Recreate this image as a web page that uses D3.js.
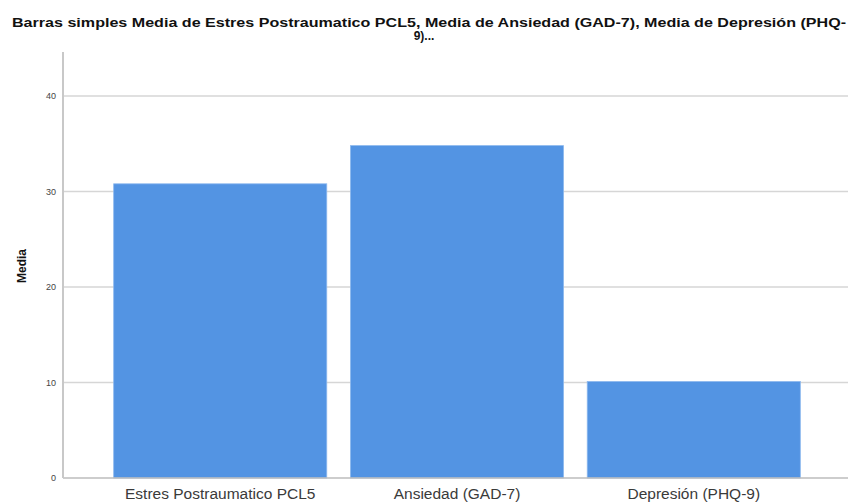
<!DOCTYPE html>
<html>
<head>
<meta charset="utf-8">
<script src="https://cdn.jsdelivr.net/npm/d3@7"></script>
<style>
  body { margin: 0; background: #fff; }
  svg { display: block; font-family: "Liberation Sans", Arial, sans-serif; }
</style>
</head>
<body>
<svg id="chart"></svg>
<script>
// chart data
const categories = ['Estres Postraumatico PCL5', 'Ansiedad (GAD-7)', 'Depresión (PHQ-9)']
const means = [30.8, 34.8, 10.1]
const yTicks = [0, 10, 20, 30, 40]
const titleLines = ['Barras simples Media de Estres Postraumatico PCL5, Media de Ansiedad (GAD-7), Media de Depresión (PHQ-', '9)...']
const yLabel = 'Media'

const width = 848, height = 502
const plotLeft = 63, plotRight = 851, plotTop = 52, plotBottom = 478

let svg = d3.select('#chart')
    .attr('width', width)
    .attr('height', height)

let x = d3.scaleBand()
    .domain(categories)
    .range([plotLeft, plotRight])
    .paddingInner(0.1)
    .paddingOuter(0.214)

let y = d3.scaleLinear()
    .domain([0, 44.6])
    .range([plotBottom, plotTop])

// gridlines
svg.append('g')
    .selectAll('line')
    .data(yTicks.filter(t => t > 0))
    .enter().append('line')
    .attr('x1', plotLeft)
    .attr('x2', width)
    .attr('y1', d => y(d))
    .attr('y2', d => y(d))
    .attr('stroke', '#d6d6d6')
    .attr('stroke-width', 1.5)

// bars
svg.append('g')
    .selectAll('rect')
    .data(means)
    .enter().append('rect')
    .attr('x', (d, i) => x(categories[i]))
    .attr('width', x.bandwidth())
    .attr('y', d => y(d))
    .attr('height', d => y(0) - y(d))
    .attr('fill', '#5394e3')
    .attr('stroke', '#8db8ee')
    .attr('stroke-width', 0.8)

// baseline
svg.append('line')
    .attr('x1', plotLeft).attr('x2', width)
    .attr('y1', y(0)).attr('y2', y(0))
    .attr('stroke', '#bdbdbd')
    .attr('stroke-width', 1.5)

// y axis
let yAxis = d3.axisLeft(y).tickValues(yTicks).tickSize(0).tickPadding(7)
let yg = svg.append('g')
    .attr('transform', 'translate(' + plotLeft + ',0)')
    .call(yAxis)
yg.select('.domain')
    .attr('d', 'M0,' + plotTop + 'V' + plotBottom)
    .attr('stroke', '#c8c8c8')
    .attr('stroke-width', 2)
yg.selectAll('text')
    .attr('font-size', 9)
    .attr('fill', '#444')
    .attr('font-family', '"Liberation Sans", Arial, sans-serif')

// x axis labels
let xAxis = d3.axisBottom(x).tickSize(0)
let xg = svg.append('g')
    .attr('transform', 'translate(0,' + plotBottom + ')')
    .call(xAxis)
xg.select('.domain').remove()
xg.selectAll('text')
    .attr('y', 21)
    .attr('dy', 0)
    .attr('font-size', 15.5)
    .attr('fill', '#3a3a3a')
    .attr('font-family', '"Liberation Sans", Arial, sans-serif')

// y label
svg.append('text')
    .attr('transform', 'translate(26,266) rotate(-90)')
    .attr('text-anchor', 'middle')
    .attr('font-size', 12)
    .attr('font-weight', 'bold')
    .attr('fill', '#111')
    .text(yLabel)

// title
svg.append('text')
    .attr('x', 12)
    .attr('y', 27)
    .attr('font-size', 12)
    .attr('font-weight', 'bold')
    .attr('fill', '#111')
    .attr('textLength', 834)
    .attr('lengthAdjust', 'spacingAndGlyphs')
    .text(titleLines[0])
svg.append('text')
    .attr('x', width / 2)
    .attr('y', 40)
    .attr('text-anchor', 'middle')
    .attr('font-size', 12)
    .attr('font-weight', 'bold')
    .attr('fill', '#111')
    .text(titleLines[1])
</script>
</body>
</html>
